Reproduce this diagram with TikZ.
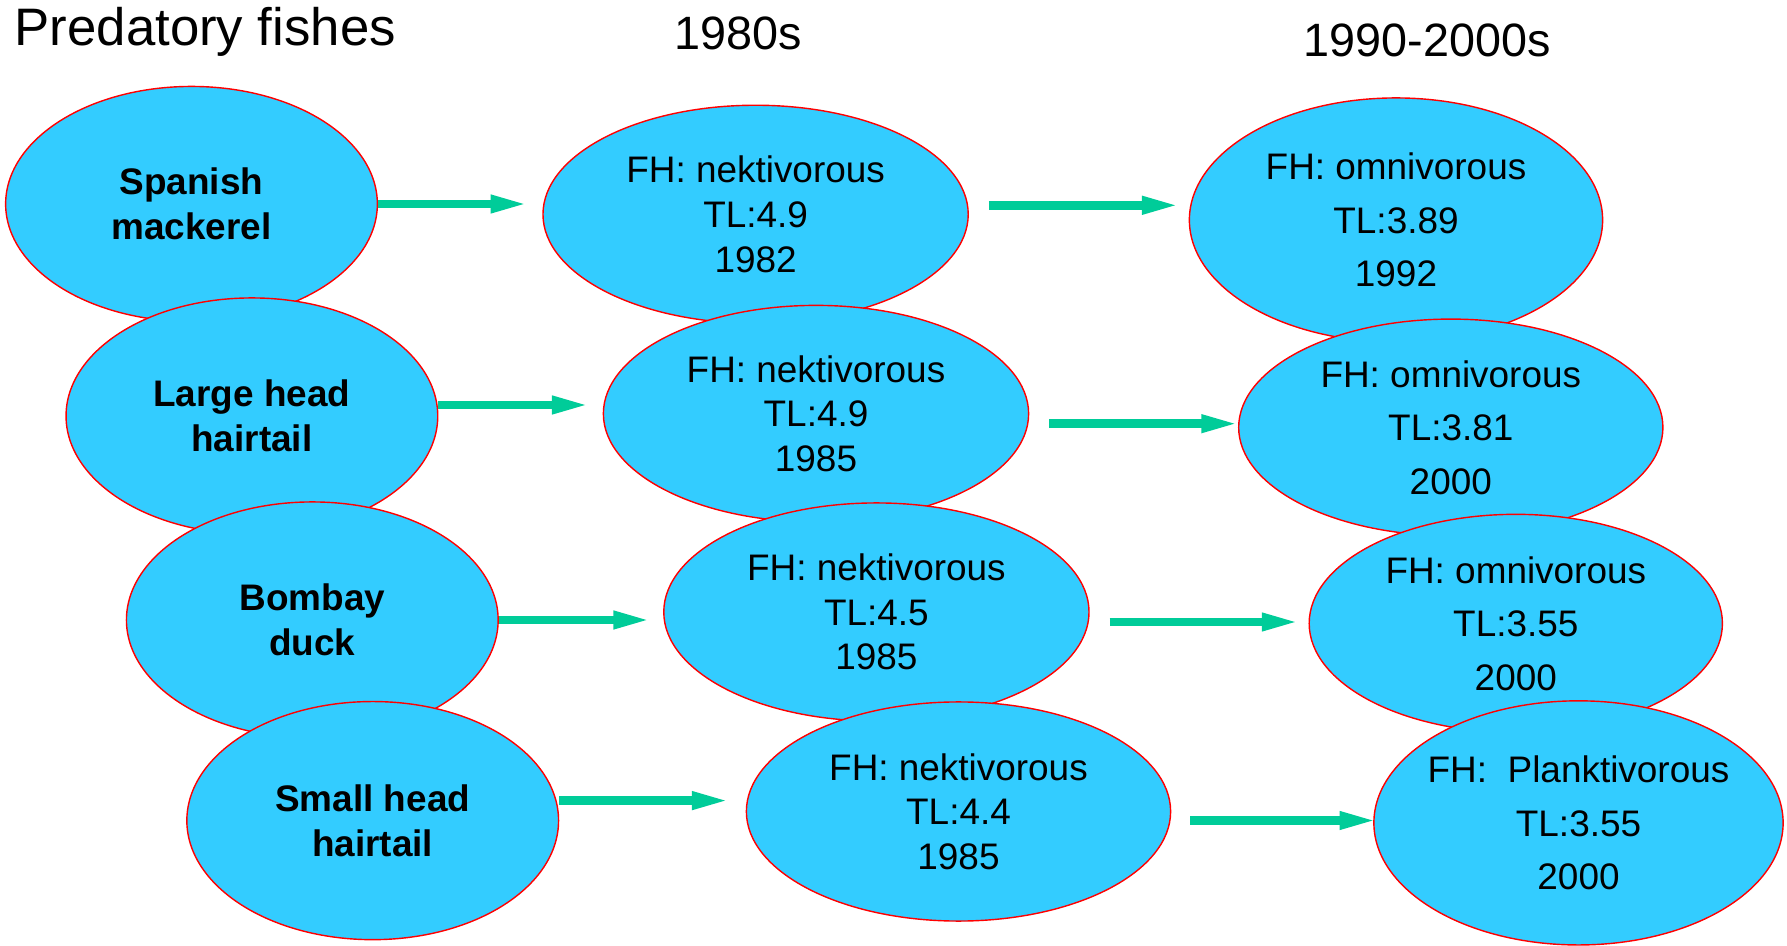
\documentclass[tikz,border=0pt]{standalone}
\usepackage{fontspec}
\setmainfont{Liberation Sans}
\usetikzlibrary{arrows.meta,positioning,calc,shapes.geometric}
\definecolor{FishBlue}{RGB}{51,204,255}
\definecolor{FlowGreen}{RGB}{0,204,153}

\begin{document}
\begin{tikzpicture}[x=0.01cm,y=-0.01cm,
  fish/.style={ellipse,draw=red,line width=0.4pt,fill=FishBlue,inner sep=0pt,align=center,
    font=\fontsize{10.5}{12.7}\selectfont\bfseries,minimum width=3.715cm,minimum height=2.36cm},
  early/.style={fish,font=\fontsize{10.5}{12.7}\selectfont,minimum width=4.25cm,minimum height=2.18cm},
  late/.style={fish,font=\fontsize{10.5}{15.2}\selectfont,minimum width=4.13cm,minimum height=2.18cm},
  flow/.style={-{Triangle[length=11pt,width=4.6pt]},line width=2.4pt,FlowGreen}]
  \useasboundingbox (0,0) rectangle (1787,946);
  % headings
  \node[anchor=base west,inner sep=0pt,font=\fontsize{15}{18}\selectfont] (title) at (14,46) {Predatory fishes};
  \node[anchor=base,font=\fontsize{13.3}{16}\selectfont] (eighties) at (738.5,50) {1980s};
  \node[anchor=base,font=\fontsize{13.3}{16}\selectfont] (nineties) at (1427,57) {1990-2000s};
  % Spanish mackerel
  \node[fish,minimum height=2.35cm] (sm) at (191.5,204) {Spanish\\mackerel};
  \node[early] (n1) at (755.6,214.3) {FH: nektivorous\\TL:4.9\\1982};
  \node[late,minimum height=2.44cm] (o1) at (1396,220) {FH: omnivorous\\TL:3.89\\1992};
  \draw[flow,shorten >=0.13cm] (sm.east) -- (sm.east -| n1.west);
  \draw[flow,shorten <=0.2cm,shorten >=0.08cm] ($(n1.east)+(0,-9)$) -- ($(n1.east -| o1.west)+(0,-9)$);
  % large head hairtail
  \node[fish] (lh) at (251.9,416) {Large head\\hairtail};
  \node[early,minimum height=2.165cm] (n2) at (816,413.7) {FH: nektivorous\\TL:4.9\\1985};
  \node[late,minimum width=4.24cm,minimum height=2.165cm] (o2) at (1450.8,427.4) {FH: omnivorous\\TL:3.81\\2000};
  \draw[flow,shorten >=0.12cm] ($(lh.east)+(0,-11)$) -- ($(lh.east -| n2.west)+(0,-11)$);
  \draw[flow,shorten <=0.2cm,shorten >=-0.02cm] ($(n2.east)+(0,10)$) -- ($(n2.east -| o2.west)+(0,10)$);
  % Bombay duck
  \node[fish] (bd) at (312.3,620) {Bombay\\duck};
  \node[early] (n3) at (876.4,612) {FH: nektivorous\\TL:4.5\\1985};
  \node[late] (o3) at (1515.8,623.4) {FH: omnivorous\\TL:3.55\\2000};
  \draw[flow,shorten >=0.11cm] (bd.east) -- (bd.east -| n3.west);
  \draw[flow,shorten <=0.2cm,shorten >=0.08cm] ($(n3.east)+(0,10)$) -- ($(n3.east -| o3.west)+(0,10)$);
  % small head hairtail
  \node[fish,minimum height=2.38cm] (sh) at (372.7,820.6) {Small head\\hairtail};
  \node[early,minimum width=4.24cm,minimum height=2.19cm] (n4) at (958.5,811.5) {FH: nektivorous\\TL:4.4\\1985};
  \node[late,inner xsep=-4pt,minimum width=4.09cm,minimum height=2.44cm] (o4) at (1578.5,822.9) {FH:\ \ Planktivorous\\TL:3.55\\2000};
  \draw[flow,shorten >=0.15cm] ($(sh.east)+(0,-20)$) -- ($(sh.east -| n4.west)+(0,-20)$);
  \draw[flow,shorten <=0.19cm,shorten >=-0.05cm] ($(n4.east)+(0,9)$) -- ($(n4.east -| o4.west)+(0,9)$);
\end{tikzpicture}
\end{document}
